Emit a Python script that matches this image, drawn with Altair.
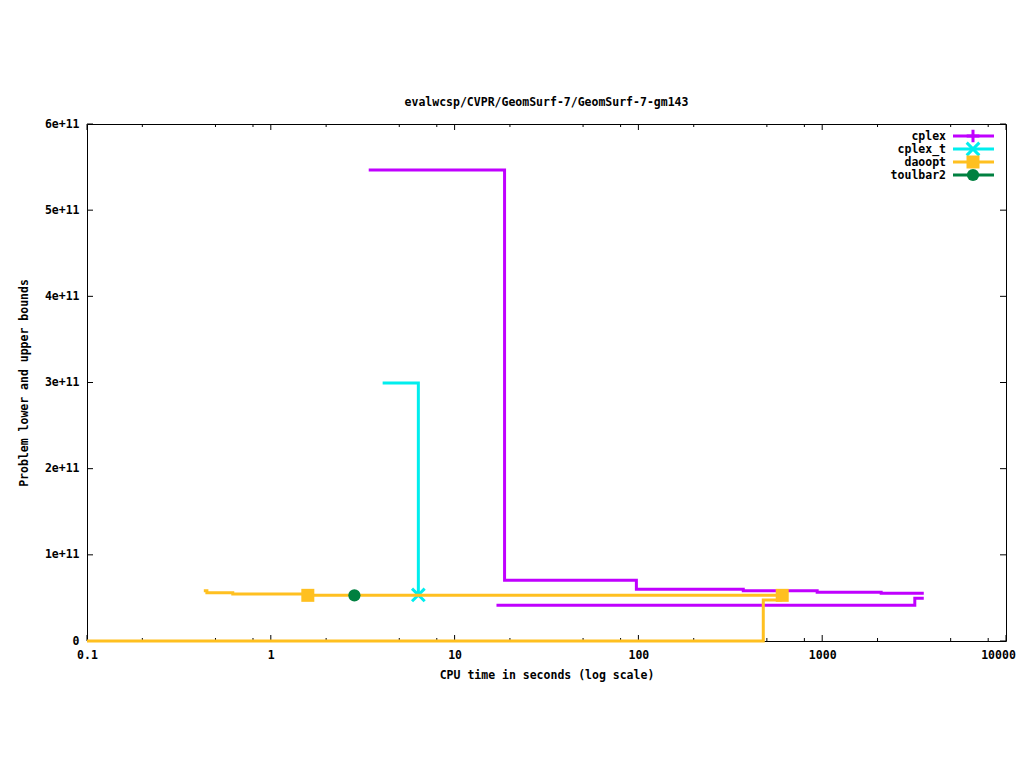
import altair as alt
import pandas as pd

# ---------------- data ----------------
series_names = ["cplex", "cplex_t", "daoopt", "toulbar2"]
series_colors = ["#c000ff", "#00eeee", "#ffc020", "#008040"]
marker_shapes = ["M-1,0L1,0M0,-1L0,1", "M-1,-1L1,1M-1,1L1,-1", "square", "circle"]
marker_filled = [False, False, True, True]

cplex_ub_t = [3.41, 18.7, 97.5, 372, 939, 2093, 3570]
cplex_ub_v = [5.466e11, 0.704e11, 0.600e11, 0.584e11, 0.565e11, 0.554e11, 0.554e11]
cplex_lb_t = [16.9, 3190, 3570]
cplex_lb_v = [0.414e11, 0.495e11, 0.495e11]

cplex_t_ub_t = [4.06, 6.35]
cplex_t_ub_v = [2.994e11, 0.534e11]

daoopt_ub_t = [0.432, 0.449, 0.621, 1.59, 606]
daoopt_ub_v = [0.584e11, 0.561e11, 0.545e11, 0.530e11, 0.530e11]
daoopt_lb_t = [0.1, 478, 606]
daoopt_lb_v = [0.0, 0.476e11, 0.476e11]

marker_series = ["cplex_t", "daoopt", "daoopt", "toulbar2"]
marker_t = [6.35, 1.59, 606, 2.85]
marker_v = [0.534e11, 0.530e11, 0.530e11, 0.530e11]

x_major = [0.1, 1, 10, 100, 1000, 10000]
x_minor = [0.2, 0.5, 0.8, 2, 5, 8, 20, 50, 80, 200, 500, 800, 2000, 5000, 8000]
y_major = [0, 1e11, 2e11, 3e11, 4e11, 5e11, 6e11]

title_text = "evalwcsp/CVPR/GeomSurf-7/GeomSurf-7-gm143"
x_title = "CPU time in seconds (log scale)"
y_title = "Problem lower and upper bounds"

# ---------------- layout ----------------
W, H = 919, 517
FONT = "DejaVu Sans Mono"
FS = 11.5

x_scale = alt.Scale(type="log", domain=[0.1, 10000], nice=False)
y_scale = alt.Scale(domain=[0, 6e11], nice=False, zero=False)

axis_style = dict(labelFont=FONT, labelFontSize=FS, labelFontWeight="bold", labelColor="black",
                  titleFont=FONT, titleFontSize=FS, titleFontWeight="bold", titleColor="black")

x_axis = alt.Axis(values=x_major, format="~g", ticks=False, domain=False, grid=False,
                  labelPadding=8, labelFlush=False, labelOverlap=False,
                  labelOffset={"condition": {"test": "datum.value >= 10000", "value": -8}, "value": 0},
                  title=x_title, titlePadding=9, **axis_style)
y_axis = alt.Axis(values=y_major, ticks=False, domain=False, grid=False,
                  labelPadding=8, labelOverlap=False,
                  labelExpr="datum.value == 0 ? '0' : format(datum.value / 1e11, 'd') + 'e+11'",
                  title=y_title, titlePadding=15, **axis_style)


def X(field):
    return alt.X(field, type="quantitative", scale=x_scale, axis=x_axis)


def Y(field):
    return alt.Y(field, type="quantitative", scale=y_scale, axis=y_axis)


layers = []

# tick marks (inside, mirrored)
xt_major = pd.DataFrame({"t": x_major})
xt_minor = pd.DataFrame({"t": x_minor})
yt_major = pd.DataFrame({"v": y_major})
for df, ln in ((xt_major, 6), (xt_minor, 3)):
    layers.append(alt.Chart(df).mark_rule(color="black", strokeWidth=1).encode(
        x=X("t"), y=alt.value(H), y2=alt.value(H - ln)))
    layers.append(alt.Chart(df).mark_rule(color="black", strokeWidth=1).encode(
        x=X("t"), y=alt.value(0), y2=alt.value(ln)))
layers.append(alt.Chart(yt_major).mark_rule(color="black", strokeWidth=1).encode(
    y=Y("v"), x=alt.value(0), x2=alt.value(6)))
layers.append(alt.Chart(yt_major).mark_rule(color="black", strokeWidth=1).encode(
    y=Y("v"), x=alt.value(W), x2=alt.value(W - 6)))

# step lines, per series in plotting order
line_data = {
    "cplex": [("ub", cplex_ub_t, cplex_ub_v), ("lb", cplex_lb_t, cplex_lb_v)],
    "cplex_t": [("ub", cplex_t_ub_t, cplex_t_ub_v)],
    "daoopt": [("ub", daoopt_ub_t, daoopt_ub_v), ("lb", daoopt_lb_t, daoopt_lb_v)],
    "toulbar2": [],
}

markers = pd.DataFrame({"series": marker_series, "t": marker_t, "v": marker_v})


def marker_mark(data, shape, filled, color):
    if filled:
        return alt.Chart(data).mark_point(shape=shape, filled=True,
                                          size=169 if shape == "square" else 150,
                                          color=color, opacity=1)
    return alt.Chart(data).mark_point(shape=shape, filled=False, size=160,
                                      color=color, strokeWidth=3, opacity=1)


for name, color, shape, filled in zip(series_names, series_colors, marker_shapes, marker_filled):
    rows = []
    for bound, ts, vs in line_data[name]:
        for i, (t, v) in enumerate(zip(ts, vs)):
            rows.append({"bound": bound, "i": i, "t": t, "v": v})
    if rows:
        df = pd.DataFrame(rows)
        layers.append(alt.Chart(df).mark_line(
            interpolate="step-after", strokeWidth=3, color=color, clip=False).encode(
            x=X("t"), y=Y("v"), detail="bound:N", order="i:Q"))
    mdf = markers[markers["series"] == name]
    if len(mdf):
        layers.append(marker_mark(mdf, shape, filled, color).encode(x=X("t"), y=Y("v")))

# legend (drawn inside the plot, top-right, labels left of samples)
for k, (name, color, shape, filled) in enumerate(zip(series_names, series_colors, marker_shapes, marker_filled)):
    ry = 12 + 13 * k
    ldf = pd.DataFrame({"label": [name]})
    layers.append(alt.Chart(ldf).mark_text(align="right", baseline="middle", font=FONT,
                                           fontSize=FS, fontWeight="bold", color="black").encode(
        text="label:N", x=alt.value(859), y=alt.value(ry + 1)))
    layers.append(alt.Chart(ldf).mark_rule(color=color, strokeWidth=3).encode(
        x=alt.value(866), x2=alt.value(907), y=alt.value(ry)))
    layers.append(marker_mark(ldf, shape, filled, color).encode(x=alt.value(886), y=alt.value(ry)))

chart = alt.layer(*layers).properties(
    width=W, height=H,
    title=alt.Title(title_text, font=FONT, fontSize=FS, fontWeight="bold", color="black", offset=10),
    autosize=alt.AutoSizeParams(type="none"),
    padding={"left": 79, "top": 116, "right": 10, "bottom": 100},
    background="white",
).configure_view(stroke="black", strokeWidth=1)

chart.save("out.html", embed_options={"renderer": "svg", "actions": False})
